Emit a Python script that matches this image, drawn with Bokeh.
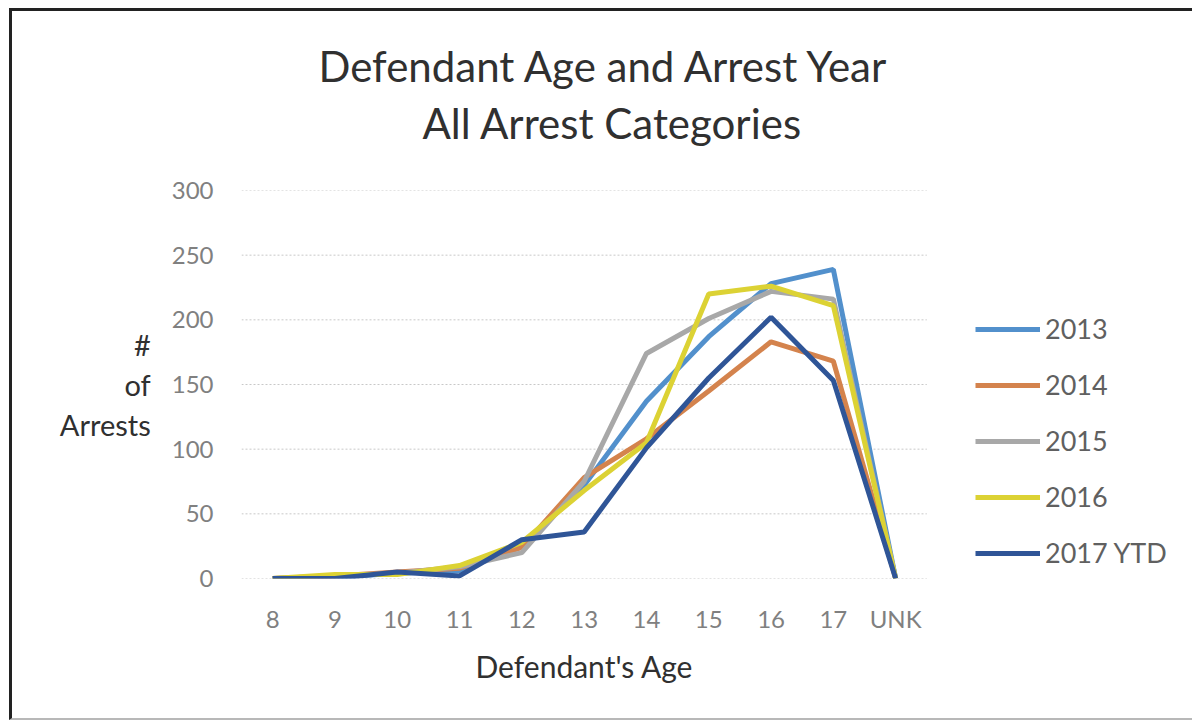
from bokeh.plotting import figure
from bokeh.models import (Range1d, FixedTicker, Legend, LegendItem, Title,
                          ColumnDataSource)
from bokeh.embed import file_html
from bokeh.resources import INLINE

ages = ["8", "9", "10", "11", "12", "13", "14", "15", "16", "17", "UNK"]
y2013 = [0, 1, 4, 6, 25, 72, 137, 187, 228, 239, 0]
y2014 = [0, 2, 5, 8, 24, 78, 108, 145, 183, 168, 0]
y2015 = [0, 2, 4, 9, 20, 75, 174, 201, 222, 216, 0]
y2016 = [0, 3, 3, 10, 28, 68, 105, 220, 226, 211, 0]
y2017 = [0, 0, 5, 2, 30, 36, 101, 155, 202, 153, 0]
series_names = ["2013", "2014", "2015", "2016", "2017 YTD"]
series_values = [y2013, y2014, y2015, y2016, y2017]
series_colors = ["#5290cc", "#d4834d", "#a8a8a8", "#dcd234", "#2f5597"]
y_ticks = [0, 50, 100, 150, 200, 250, 300]

FONT = "Lato"
xpos = list(range(len(ages)))  # category positions

# frame: canvas x 229..1183 (the right part hosts the legend), y 179..567
CAT_PX = 62.3
FRAME_W = 1183 - 229
x_end = -0.5 + FRAME_W / CAT_PX

p = figure(width=1183, height=712, x_range=Range1d(-0.5, x_end),
           y_range=Range1d(0, 300),
           output_backend="svg", toolbar_location=None,
           title="Defendant Age and Arrest Year",
           min_border_left=229, min_border_right=0,
           min_border_top=179, min_border_bottom=145)
p.styles = {"margin-left": "9px", "margin-top": "8px",
            "border-left": "3px solid #222222",
            "border-top": "3px solid #222222",
            "border-bottom": "2px solid #b8b8b8"}
p.outline_line_color = None
p.background_fill_color = "white"
p.border_fill_color = "white"

# titles (outer = p.title, inner = added Title)
p.title.text_font = FONT
p.title.text_font_size = "42px"
p.title.text_font_style = "normal"
p.title.text_color = "#303030"
p.title.align = "left"
p.title.offset = 77
p.title.standoff = -76
p.add_layout(Title(text="All Arrest Categories", text_font=FONT,
                   text_font_size="42px", text_font_style="normal",
                   text_color="#303030", align="left", offset=181,
                   standoff=86), "above")

# grid lines only across the category area
p.xgrid.grid_line_color = None
p.ygrid.grid_line_color = None
grid_src = ColumnDataSource(dict(x0=[-0.5] * len(y_ticks),
                                 x1=[len(ages) - 0.5] * len(y_ticks),
                                 y=y_ticks))
p.segment(x0="x0", x1="x1", y0="y", y1="y", source=grid_src,
          line_color="#c8c8c8", line_dash="2 2", line_width=1)

p.xaxis.ticker = FixedTicker(ticks=xpos)
p.xaxis.major_label_overrides = {i: a for i, a in zip(xpos, ages)}
p.yaxis.ticker = FixedTicker(ticks=y_ticks)

for ax in (p.xaxis[0], p.yaxis[0]):
    ax.axis_line_color = None
    ax.major_tick_line_color = None
    ax.minor_tick_line_color = None
    ax.major_tick_in = 0
    ax.major_tick_out = 0
    ax.major_label_text_font = FONT
    ax.major_label_text_font_size = "24px"
    ax.major_label_text_color = "#808080"
    ax.axis_label_text_font = FONT
    ax.axis_label_text_font_style = "normal"
    ax.axis_label_text_color = "#303030"
p.yaxis.major_label_standoff = 28
p.xaxis.major_label_standoff = 25
p.yaxis.axis_label = "#\nof\nArrests"
p.yaxis.axis_label_orientation = "horizontal"
p.yaxis.axis_label_text_align = "center"
p.yaxis.axis_label_text_font_size = "29px"
p.yaxis.axis_label_text_line_height = 1.15
p.yaxis.axis_label_standoff = 18

p.add_layout(Title(text="Defendant's Age", text_font=FONT,
                   text_font_size="30px", text_font_style="normal",
                   text_color="#303030", align="left", offset=475 - 241,
                   standoff=20), "below")

items = []
for name, vals, col in zip(series_names, series_values, series_colors):
    r = p.line(xpos, vals, line_color=col, line_width=5)
    items.append(LegendItem(label=name, renderers=[r]))

legend = Legend(items=items, location=(734, 9), orientation="vertical",
                glyph_width=65, glyph_height=20, label_height=20,
                spacing=23, padding=0, margin=0, label_standoff=5,
                label_text_font=FONT, label_text_font_size="27px",
                label_text_color="#606060",
                border_line_color=None, background_fill_alpha=0)
p.add_layout(legend, "center")

open("out.html", "w").write(file_html(p, INLINE))
